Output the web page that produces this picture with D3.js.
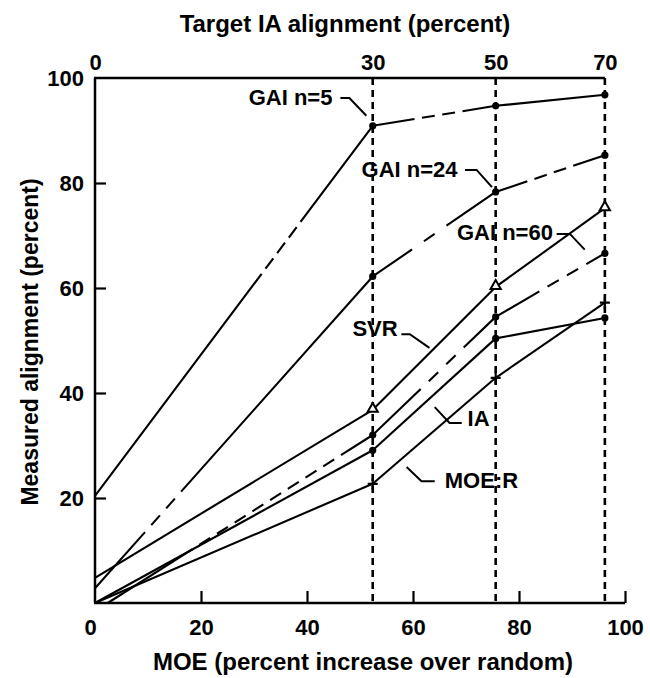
<!DOCTYPE html>
<html><head><meta charset="utf-8">
<script src="https://cdn.jsdelivr.net/npm/d3@7"></script>
<style>
body{margin:0;background:#fff}
text{font-family:"Liberation Sans",Arial,Helvetica,sans-serif;font-weight:bold;fill:#000}
</style>
</head><body>
<svg id="c" width="650" height="678"></svg>
<script>
// ---- data ----
const targetMOE = [0, 52.4, 75.6, 96.2];          // MOE position of each target IA alignment
const targetLabels = ["0", "30", "50", "70"];
const xTicks = [0, 20, 40, 60, 80, 100];
const yTicks = [20, 40, 60, 80, 100];
const seriesNames = ["GAI n=5", "GAI n=24", "GAI n=60", "SVR", "IA", "MOE:R"];
const gai5X  = [0, 52.4, 75.6, 96.2];  const gai5Y  = [20.4, 90.9, 94.7, 96.8];
const gai24X = [0, 52.4, 75.6, 96.2];  const gai24Y = [2.8, 62.2, 78.3, 85.3];
const gai60X = [2.4, 52.4, 75.6, 96.2]; const gai60Y = [0, 32.0, 54.5, 66.6];
const svrX   = [0, 52.4, 75.6, 96.2];  const svrY   = [4.8, 36.8, 60.2, 75.2];
const iaX    = [0, 52.4, 75.6, 96.2];  const iaY    = [0, 29.1, 50.4, 54.3];
const moerX  = [0, 52.4, 75.6, 96.2];  const moerY  = [0, 22.7, 42.9, 57.2];
// label anchors (data units)
const labelX = [44.8, 68.4, 86.4, 57.1, 70.3, 66.0];
const labelY = [96.4, 82.7, 70.7, 52.4, 35.2, 23.4];

// ---- styles ----
const seriesX = [gai5X, gai24X, gai60X, svrX, iaX, moerX];
const seriesY = [gai5Y, gai24Y, gai60Y, svrY, iaY, moerY];
const markerKind = ["dot", "dot", "dot", "tri", "dot", "plus"];
const dashed = [  // dashed stretch of each segment (fraction of segment length)
  [[0.60, 0.74], [0.34, 0.73], null],
  [[0.18, 0.31], [0.32, 0.60], [0.29, 0.71]],
  [[0.32, 0.88], [0.39, 0.74], [0.40, 0.83]],
  [null, null, null], [null, null, null], [null, null, null]
];
const labelAnchor = ["end", "end", "end", "end", "start", "start"];
const leaders = [ // leader polylines (data units)
  [[46.3, 96.2], [48.0, 96.2], [51.2, 92.8]],
  [[69.8, 82.5], [72.0, 82.5], [74.9, 79.2]],
  [[87.1, 70.3], [89.6, 70.3], [92.4, 67.3]],
  [[57.8, 51.2], [59.4, 51.2], [63.1, 48.6]],
  [[69.2, 34.3], [66.9, 34.3], [64.1, 37.3]],
  [[64.1, 23.2], [61.6, 23.2], [58.8, 25.9]]
];

const svg = d3.select("#c");
const x = d3.scaleLinear().domain([0, 100]).range([95, 625]);
const y = d3.scaleLinear().domain([0, 100]).range([603, 78]);

// axes frame
const g = svg.append("g");
g.append("line").attr("x1", x(0) - 1).attr("x2", x(100)).attr("y1", y(0)).attr("y2", y(0))
  .attr("stroke", "#000").attr("stroke-width", 2.5);
g.append("line").attr("x1", x(0)).attr("x2", x(0)).attr("y1", y(0)).attr("y2", y(100))
  .attr("stroke", "#000").attr("stroke-width", 2.5);
g.append("line").attr("x1", x(0) - 1).attr("x2", x(targetMOE[3])).attr("y1", y(100)).attr("y2", y(100))
  .attr("stroke", "#000").attr("stroke-width", 2.5);

// bottom axis ticks (inward)
const xAxis = d3.axisBottom(x).tickValues(xTicks).tickSize(0).tickPadding(16).tickFormat(d3.format("d"));
const gx = svg.append("g").attr("transform", `translate(0,${y(0)})`).call(xAxis);
gx.select(".domain").remove();
gx.selectAll("text").attr("font-size", 22).attr("dy", "0.71em");
gx.selectAll(".tick").filter(d => d === 0).select("text").attr("dx", -5);
gx.selectAll(".tick").filter(d => d > 0).append("line").attr("y1", 0).attr("y2", -12)
  .attr("stroke", "#000").attr("stroke-width", 2.2);

// left axis
const yAxis = d3.axisLeft(y).tickValues(yTicks).tickSize(0).tickPadding(11).tickFormat(d3.format("d"));
const gy = svg.append("g").attr("transform", `translate(${x(0)},0)`).call(yAxis);
gy.select(".domain").remove();
gy.selectAll("text").attr("font-size", 22);
gy.selectAll(".tick").filter(d => d < 100).append("line").attr("x1", 0).attr("x2", 11)
  .attr("stroke", "#000").attr("stroke-width", 2.2);

// top axis (target IA alignment)
const topAxis = d3.axisTop(x).tickValues(targetMOE).tickSize(0).tickPadding(8)
  .tickFormat((d, i) => targetLabels[i]);
const gt = svg.append("g").attr("transform", `translate(0,${y(100)})`).call(topAxis);
gt.select(".domain").remove();
gt.selectAll("text").attr("font-size", 22);

// vertical dotted lines at targets
svg.append("g").selectAll("line").data(targetMOE.slice(1)).join("line")
  .attr("x1", d => x(d)).attr("x2", d => x(d)).attr("y1", y(100)).attr("y2", y(0))
  .attr("stroke", "#000").attr("stroke-width", 2.6).attr("stroke-dasharray", "7,5");

// axis titles
svg.append("text").attr("x", 345).attr("y", 32).attr("text-anchor", "middle")
  .attr("font-size", 24).text("Target IA alignment (percent)");
svg.append("text").attr("x", 363).attr("y", 670).attr("text-anchor", "middle")
  .attr("font-size", 24).text("MOE (percent increase over random)");
svg.append("text").attr("transform", "translate(38,342) rotate(-90)").attr("text-anchor", "middle")
  .attr("font-size", 23).text("Measured alignment (percent)");

// series
function dashFor(L, r) {
  if (!r) return null;
  const d = 13, gp = 9;
  const D = (r[1] - r[0]) * L;
  const k = Math.max(1, Math.round((D - gp) / (d + gp)));
  const gg = (D - k * d) / (k + 1);
  const arr = [r[0] * L];
  for (let i = 0; i < k; i++) arr.push(gg, d);
  arr.push(gg, L + 10);
  return arr.map(v => v.toFixed(2)).join(",");
}
const lines = svg.append("g");
seriesX.forEach((xs, si) => {
  const ys = seriesY[si];
  for (let i = 0; i < xs.length - 1; i++) {
    const x1 = x(xs[i]), y1 = y(ys[i]), x2 = x(xs[i + 1]), y2 = y(ys[i + 1]);
    const L = Math.hypot(x2 - x1, y2 - y1);
    const da = dashFor(L, dashed[si][i]);
    const ln = lines.append("line").attr("x1", x1).attr("y1", y1).attr("x2", x2).attr("y2", y2)
      .attr("stroke", "#000").attr("stroke-width", 2.1).attr("stroke-linecap", "butt");
    if (da) ln.attr("stroke-dasharray", da);
  }
  // markers (not at the first point)
  const mg = svg.append("g");
  xs.forEach((v, i) => {
    if (i === 0) return;
    const px = x(v), py = y(ys[i]);
    if (markerKind[si] === "dot") {
      mg.append("circle").attr("cx", px).attr("cy", py).attr("r", 3.6).attr("fill", "#000");
    } else if (markerKind[si] === "tri") {
      mg.append("path").attr("d", d3.symbol(d3.symbolTriangle, 45)())
        .attr("transform", `translate(${px},${py - 1})`)
        .attr("fill", "#fff").attr("stroke", "#000").attr("stroke-width", 2);
    } else {
      mg.append("path").attr("d", `M${px - 5},${py}H${px + 5}M${px},${py - 6}V${py + 6}`)
        .attr("stroke", "#000").attr("stroke-width", 2.2);
    }
  });
});

// labels with leader lines
seriesNames.forEach((name, i) => {
  svg.append("text").attr("x", x(labelX[i])).attr("y", y(labelY[i])).attr("dy", "0.36em")
    .attr("text-anchor", labelAnchor[i]).attr("font-size", 22).text(name);
  svg.append("path").attr("d", d3.line().x(d => x(d[0])).y(d => y(d[1]))(leaders[i]))
    .attr("fill", "none").attr("stroke", "#000").attr("stroke-width", 2);
});
</script>
</body></html>
